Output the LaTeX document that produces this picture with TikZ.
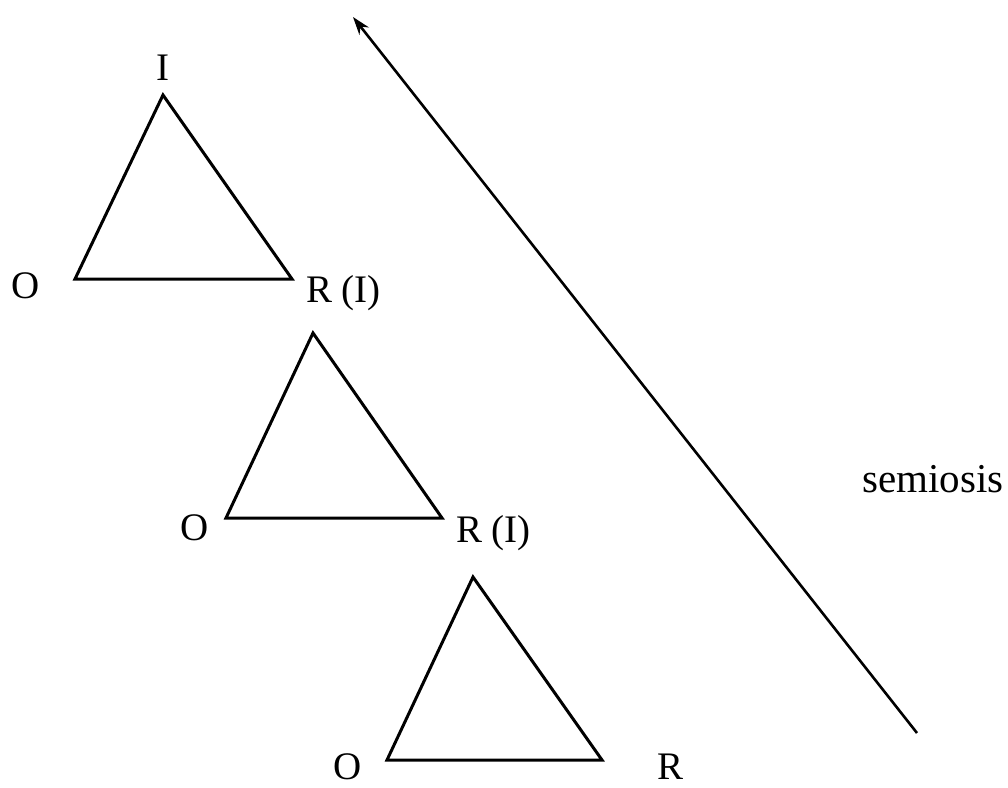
\documentclass[tikz,border=0pt]{standalone}
\usepackage{fontspec}
\setmainfont{Liberation Serif}
\usetikzlibrary{arrows.meta}
\begin{document}
\begin{tikzpicture}[x=1pt,y=-1pt,
  lbl/.style={inner sep=0pt,font=\fontsize{39}{42}\selectfont},
  semlbl/.style={inner sep=0pt,font=\fontsize{41}{44}\selectfont},
  tri/.style={line width=3pt,line join=miter},
  semarrow/.style={line width=2.6pt,-{Stealth[length=18pt,width=12pt]}}]
\useasboundingbox (0,0) rectangle (1008,787);
% triangle 1
\coordinate (a1) at (163,95);
\coordinate (o1) at (75,279);
\coordinate (r1) at (292,279);
\draw[tri] (a1) -- (o1) -- (r1) -- cycle;
\node[lbl,anchor=base] (i1) at (163,80) {I};
\node[lbl,anchor=base] (lo1) at (26,298) {O};
\node[lbl,anchor=base west] (lr1) at (306,302) {R (I)};
% triangle 2
\coordinate (a2) at (313,333);
\coordinate (o2) at (226,518);
\coordinate (r2) at (442,518);
\draw[tri] (a2) -- (o2) -- (r2) -- cycle;
\node[lbl,anchor=base] (lo2) at (195,540) {O};
\node[lbl,anchor=base west] (lr2) at (456,542) {R (I)};
% triangle 3
\coordinate (a3) at (473,577);
\coordinate (o3) at (387,760);
\coordinate (r3) at (602,760);
\draw[tri] (a3) -- (o3) -- (r3) -- cycle;
\node[lbl,anchor=base] (lo3) at (348,779) {O};
\node[lbl,anchor=base] (lr3) at (670,779) {R};
% semiosis arrow
\coordinate (s0) at (917,733);
\coordinate (s1) at (353,17);
\draw[semarrow] (s0) -- (s1);
\node[semlbl,anchor=base west] (sem) at (862,492) {semiosis};
\end{tikzpicture}
\end{document}
